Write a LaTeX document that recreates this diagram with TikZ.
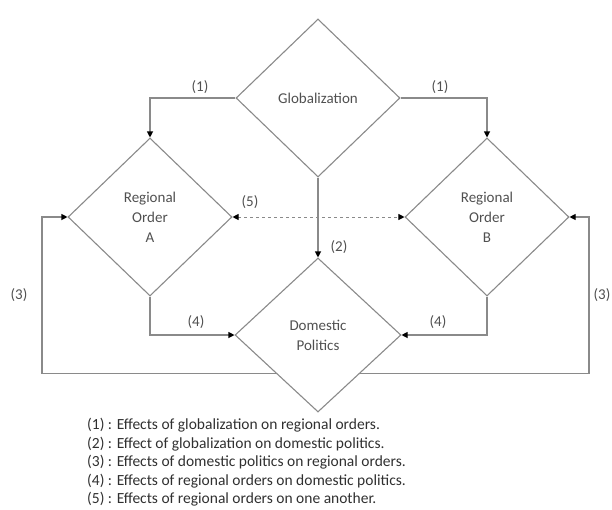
\documentclass[tikz,border=0pt]{standalone}
\usepackage{fontspec}
\setmainfont{Carlito}
\usepackage{tikz}
\usetikzlibrary{arrows.meta,shapes.geometric}
\definecolor{linegray}{HTML}{8A8A8A}
\definecolor{textgray}{HTML}{505050}
\definecolor{legendgray}{HTML}{303030}
\tikzset{
  tip/.style={Triangle[length=6pt,width=6pt,black]},
  ar/.style={-{Triangle[length=6pt,width=6pt,black]},line width=1.1pt,linegray},
  dia/.style={diamond,draw=linegray,line width=1.1pt,inner sep=0pt,minimum width=164pt,minimum height=158pt,
    align=center,text=textgray,font=\fontsize{15}{20}\selectfont},
  lbl/.style={text=textgray,font=\fontsize{15}{18}\selectfont,inner sep=0pt}
}
\begin{document}
\begin{tikzpicture}[x=1pt,y=-1pt]
\useasboundingbox (0,0) rectangle (612,509);
\node[dia] (glob) at (318,98) {Globalization};
\node[dia] (regA) at (150,217) {Regional\\Order\\A};
\node[dia] (regB) at (487,217) {Regional\\Order\\B};
\node[dia,minimum width=166pt,minimum height=154pt] (dom) at (318,335) {Domestic\\Politics};
\coordinate (loopL) at (42,0); \coordinate (loopR) at (589,0);
\draw[ar] (glob.west) -| (regA.north);
\draw[ar] (glob.east) -| (regB.north);
\draw[ar] (glob.south) -- (dom.north);
\draw[ar] (regA.south) |- (dom.west);
\draw[ar] (regB.south) |- (dom.east);
\draw[ar] (dom.south west) -- (dom.south west -| loopL) |- (regA.west);
\draw[ar] (dom.south east) -- (dom.south east -| loopR) |- (regB.east);
\draw[{Triangle[length=6pt,width=6pt,black]}-{Triangle[length=6pt,width=6pt,black]},linegray,dashed,line width=0.9pt] (regA.east) -- (regB.west);
\node[lbl] (l1a) at (200,87) {(1)};
\node[lbl] (l1b) at (440,87) {(1)};
\node[lbl] (l2) at (339,247) {(2)};
\node[lbl] (l3a) at (19,295) {(3)};
\node[lbl] (l3b) at (602,295) {(3)};
\node[lbl] (l4a) at (196,322) {(4)};
\node[lbl] (l4b) at (438,322) {(4)};
\node[lbl] (l5) at (250,202) {(5)};
\node[anchor=north west,align=left,inner sep=0pt,text=legendgray,font=\fontsize{15.5}{18.5}\selectfont] (legend) at (87,418)
  {(1) : Effects of globalization on regional orders.\\
   (2) : Effect of globalization on domestic politics.\\
   (3) : Effects of domestic politics on regional orders.\\
   (4) : Effects of regional orders on domestic politics.\\
   (5) : Effects of regional orders on one another.};
\end{tikzpicture}
\end{document}
